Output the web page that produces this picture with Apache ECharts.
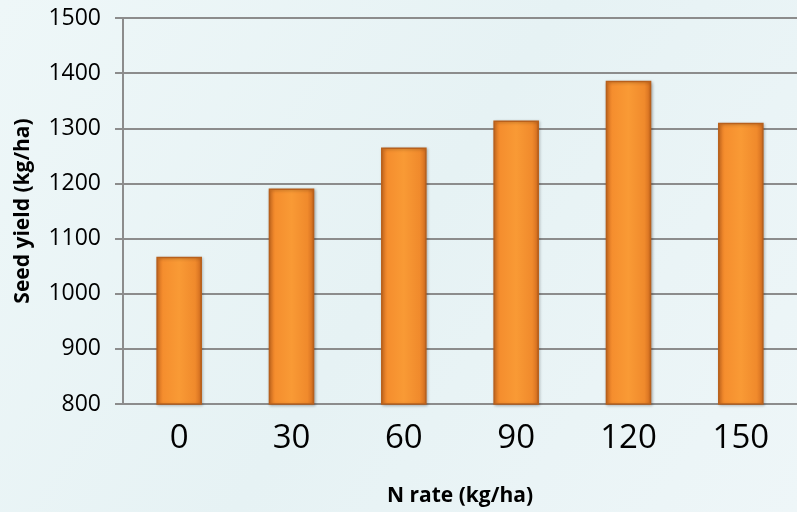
<!DOCTYPE html>
<html>
<head>
<meta charset="utf-8">
<script src="https://cdn.jsdelivr.net/npm/echarts@6/dist/echarts.min.js"></script>
<style>
html,body{margin:0;padding:0;background:#edf6f7;}
#c{width:797px;height:512px;}
</style>
</head>
<body>
<div id="c"></div>
<script>
const categories = ['0', '30', '60', '90', '120', '150'];
const seedYield = [1067, 1191, 1265, 1314, 1386, 1310];
const yTicks = [800, 900, 1000, 1100, 1200, 1300, 1400, 1500];

const chart = echarts.init(document.getElementById('c'), null, {renderer: 'canvas'});
chart.setOption({
  backgroundColor: new echarts.graphic.LinearGradient(0, 0, 1, 1, [
    {offset: 0, color: '#eef7f8'},
    {offset: 0.5, color: '#e6f2f4'},
    {offset: 1, color: '#eef6f8'}
  ]),
  animation: false,
  grid: {left: 123, right: -6, top: 18, bottom: 108},
  xAxis: {
    type: 'category',
    data: categories,
    axisLine: {show: true, lineStyle: {color: '#8c8c8c', width: 2}},
    axisTick: {show: false},
    axisLabel: {fontFamily: 'Open Sans', fontSize: 33, color: '#000', margin: 18},
    name: 'N rate (kg/ha)',
    nameLocation: 'middle',
    nameGap: 82,
    nameTextStyle: {fontFamily: 'Open Sans', fontWeight: 'bold', fontSize: 21, color: '#000'}
  },
  yAxis: {
    type: 'value',
    min: yTicks[0],
    max: yTicks[yTicks.length - 1],
    interval: 100,
    axisLine: {show: true, lineStyle: {color: '#8c8c8c', width: 2}},
    axisTick: {show: true, length: 8, lineStyle: {color: '#8c8c8c', width: 2}},
    splitLine: {lineStyle: {color: '#8c8c8c', width: 2}},
    axisLabel: {fontFamily: 'Open Sans', fontSize: 23, color: '#000', margin: 22, formatter: v => String(v)},
    name: 'Seed yield (kg/ha)',
    nameLocation: 'middle',
    nameGap: 89,
    nameTextStyle: {fontFamily: 'Open Sans', fontWeight: 'bold', fontSize: 21, color: '#000'}
  },
  series: [{
    type: 'bar',
    data: seedYield,
    barWidth: '40.6%',
    itemStyle: {
      color: new echarts.graphic.LinearGradient(0, 0, 1, 0, [
        {offset: 0, color: '#dd7422'},
        {offset: 0.15, color: '#f58e2e'},
        {offset: 0.5, color: '#f99a35'},
        {offset: 0.85, color: '#f08a2c'},
        {offset: 1, color: '#cf6a1e'}
      ]),
      borderColor: '#b8601c',
      borderWidth: 1.5,
      shadowColor: 'rgba(0,0,0,0.25)',
      shadowBlur: 3,
      shadowOffsetX: 1,
      shadowOffsetY: 1
    }
  }]
});
</script>
</body>
</html>
